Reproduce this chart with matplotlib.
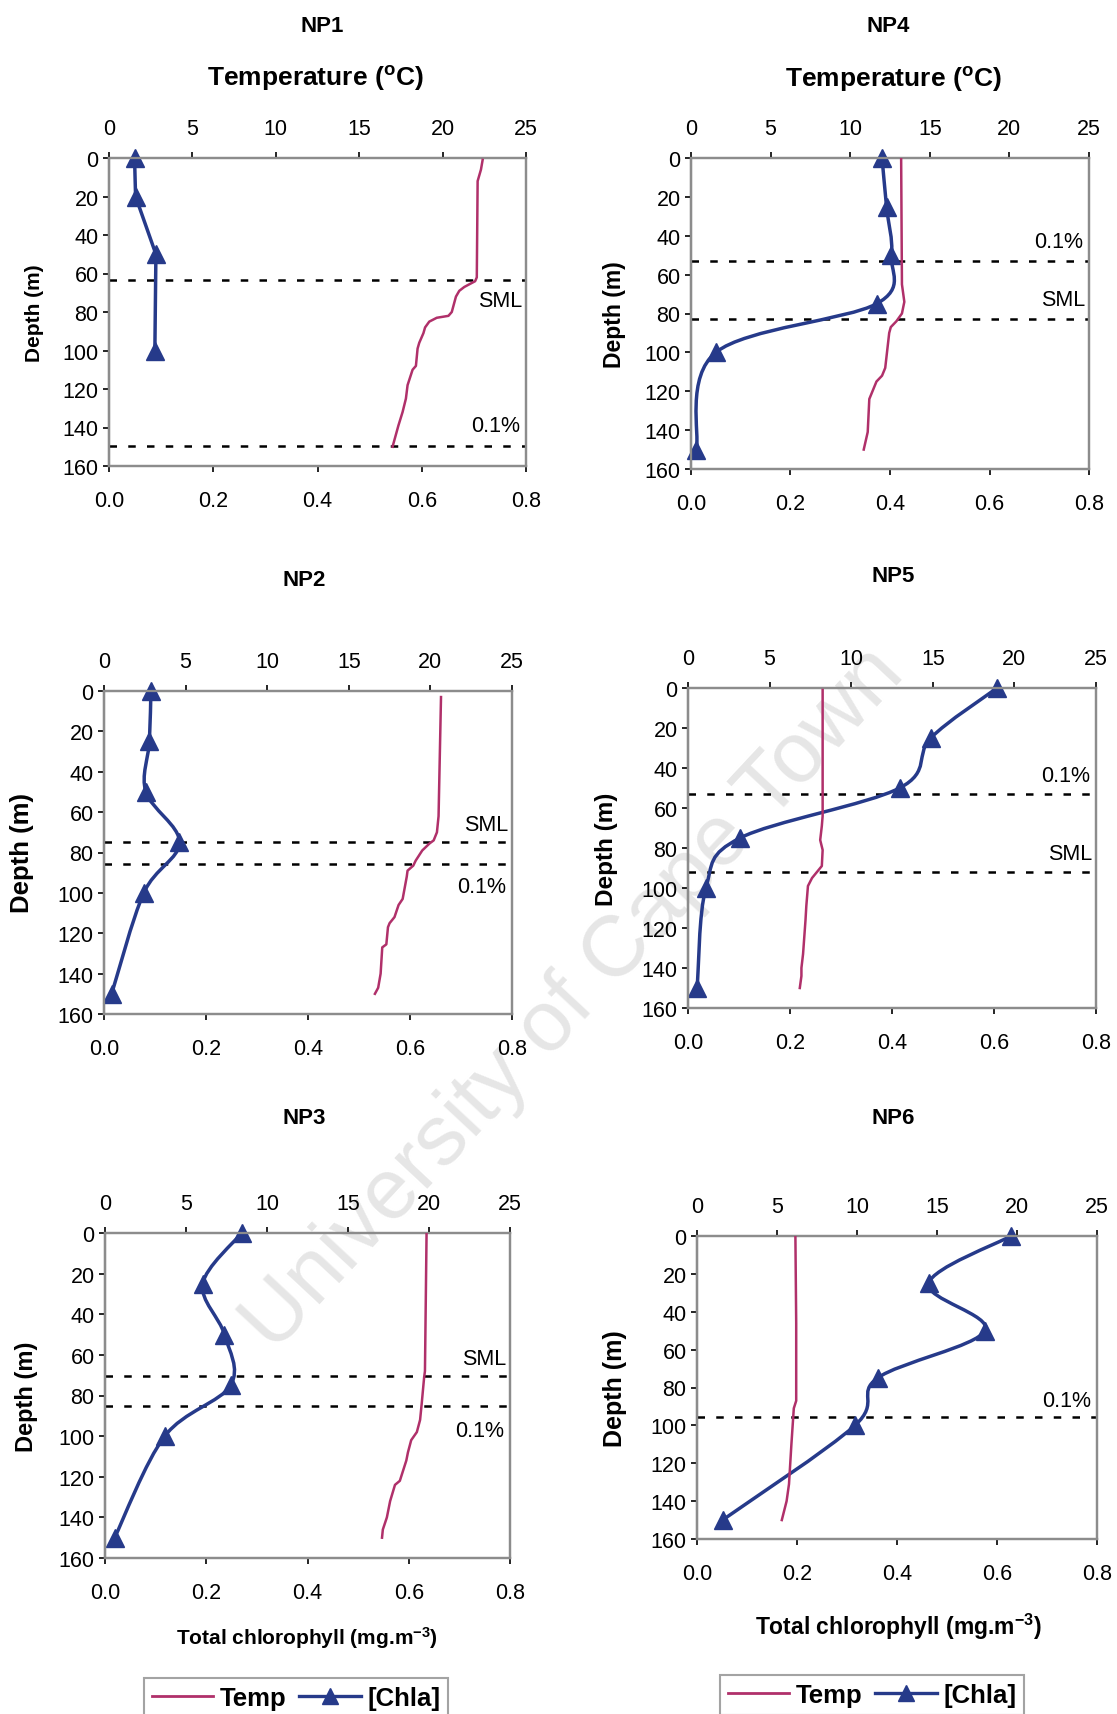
import numpy as np
import matplotlib
matplotlib.use("Agg")
import matplotlib.pyplot as plt
from matplotlib.path import Path
from matplotlib.patches import PathPatch
from matplotlib.lines import Line2D
import matplotlib.transforms as mtransforms

plt.rcParams["font.family"] = ["Liberation Sans", "DejaVu Sans"]

# ---- data ----
stations = ["NP1", "NP4", "NP2", "NP5", "NP3", "NP6"]

np1_chl_depth = [0, 20, 50, 100]
np1_chl = [0.049, 0.051, 0.090, 0.088]
np1_t_depth = [1, 6, 12, 62, 64, 67, 69, 72, 80, 82, 83, 85, 88, 91, 96, 99, 108, 110, 118, 125, 132, 139, 150]
np1_temp = [22.4, 22.3, 22.1, 22.05, 21.95, 21.3, 21.0, 20.8, 20.55, 20.35, 19.65, 19.2, 18.95, 18.85,
            18.6, 18.5, 18.4, 18.2, 17.9, 17.8, 17.6, 17.35, 17.0]

np4_chl_depth = [0, 25, 50, 75, 100, 150]
np4_chl = [0.384, 0.393, 0.403, 0.373, 0.050, 0.011]
np4_t_depth = [0, 65, 74, 80, 84, 87, 90, 108, 112, 115, 120, 124, 141, 150]
np4_temp = [13.2, 13.25, 13.4, 13.25, 12.9, 12.55, 12.45, 12.2, 12.0, 11.65, 11.4, 11.2, 11.1, 10.85]

np2_chl_depth = [0, 25, 50, 75, 100, 150]
np2_chl = [0.092, 0.089, 0.082, 0.148, 0.078, 0.015]
np2_t_depth = [3, 62, 70, 74, 75.5, 79, 84, 86.5, 89, 92, 103, 106, 112, 115, 117, 125.5, 127, 140, 147, 150]
np2_temp = [20.65, 20.5, 20.4, 20.2, 19.95, 19.5, 19.1, 18.95, 18.6, 18.55, 18.3, 18.05, 17.8, 17.5,
            17.4, 17.3, 17.05, 16.95, 16.8, 16.6]

np5_chl_depth = [0, 25, 50, 75, 100, 150]
np5_chl = [0.606, 0.476, 0.415, 0.102, 0.035, 0.018]
np5_t_depth = [1, 64, 69, 76, 81, 89, 92, 95, 99, 109, 116, 133, 140, 144, 150]
np5_temp = [8.25, 8.25, 8.2, 8.1, 8.25, 8.2, 7.9, 7.6, 7.35, 7.25, 7.2, 7.05, 6.95, 6.95, 6.85]

np3_chl_depth = [0, 25, 50, 75, 100, 150]
np3_chl = [0.270, 0.193, 0.236, 0.248, 0.118, 0.019]
np3_t_depth = [0, 68, 71, 84, 92, 98, 102, 108, 112, 122, 124, 132, 140, 146, 150]
np3_temp = [19.85, 19.75, 19.7, 19.55, 19.45, 19.25, 18.9, 18.7, 18.6, 18.2, 17.9, 17.6, 17.4, 17.15, 17.1]

np6_chl_depth = [0, 25, 50, 75, 100, 150]
np6_chl = [0.628, 0.463, 0.576, 0.361, 0.316, 0.051]
np6_t_depth = [0, 46, 87, 91, 110, 131, 140, 150]
np6_temp = [6.15, 6.2, 6.2, 6.05, 5.9, 5.75, 5.6, 5.3]

# reference depths (m): surface mixed layer and 0.1% light level
sml_depth = [63.5, 83, 75, 92, 70.5, None]
light_depth = [149.5, 53, 85.5, 53, 85, 95.5]
# label depths for the "SML" / "0.1%" text
sml_label = [74, 73, 66, 83, 62, None]
light_label = [139, 43, 97, 44, 97, 87]

temp_ticks = [0, 5, 10, 15, 20, 25]
chl_ticks = [0.0, 0.2, 0.4, 0.6, 0.8]
depth_ticks = [0, 20, 40, 60, 80, 100, 120, 140, 160]

# ---- layout (pixels of the 1117 x 1715 figure) ----
W, H = 1117, 1715
axes_px = [(109, 526, 159, 467), (691, 1089, 159, 470),
           (104, 512, 692, 1015), (688, 1096, 689, 1009),
           (105, 510, 1234, 1559), (697, 1097, 1237, 1540)]
title_px = [(322, 26), (888, 27), (304, 581), (893, 577), (304, 1118), (893, 1118)]
ylab_x = [35, 615, 22, 607, 26, 615]
ylab_size = [15, 16.5, 18.5, 17.5, 17, 18]
smooth = [False, True, True, True, True, True]

chl_series = [(np1_chl_depth, np1_chl), (np4_chl_depth, np4_chl), (np2_chl_depth, np2_chl),
              (np5_chl_depth, np5_chl), (np3_chl_depth, np3_chl), (np6_chl_depth, np6_chl)]
temp_series = [(np1_t_depth, np1_temp), (np4_t_depth, np4_temp), (np2_t_depth, np2_temp),
               (np5_t_depth, np5_temp), (np3_t_depth, np3_temp), (np6_t_depth, np6_temp)]

TEMP_C = "#b0306a"
CHL_C = "#263a8a"
SPINE_C = "#8c8c8c"


def smooth_path(xs, ys):
    # Excel-like smoothed line: Catmull-Rom segments as cubic Bezier curves
    pts = np.column_stack([xs, ys]).astype(float)
    n = len(pts)
    verts = [pts[0]]
    codes = [Path.MOVETO]
    for i in range(n - 1):
        p0 = pts[max(i - 1, 0)]
        p1 = pts[i]
        p2 = pts[i + 1]
        p3 = pts[min(i + 2, n - 1)]
        verts += [p1 + (p2 - p0) / 6, p2 - (p3 - p1) / 6, p2]
        codes += [Path.CURVE4] * 3
    return Path(verts, codes)


fig = plt.figure(figsize=(W / 100, H / 100), dpi=100)

# watermark
fig.text(574 / W, 1 - 1000 / H, "University of Cape Town", rotation=47, fontsize=62,
         color="#e6e6e6", ha="center", va="center", zorder=-5)

for i, name in enumerate(stations):
    x0, x1, y0, y1 = axes_px[i]
    ax = fig.add_axes([x0 / W, 1 - y1 / H, (x1 - x0) / W, (y1 - y0) / H])
    ax.patch.set_alpha(0)
    axt = ax.twiny()
    axt.patch.set_alpha(0)

    for a in (ax, axt):
        a.set_ylim(160, 0)
        for s in a.spines.values():
            s.set_color(SPINE_C)
            s.set_linewidth(1.6)
        a.tick_params(colors="black", labelsize=15.5, length=4, width=1.2, direction="out")
    ax.spines["left"].set_color("#444444")
    ax.set_xlim(0, 0.8)
    axt.set_xlim(0, 25)
    ax.set_xticks(chl_ticks)
    ax.set_xticklabels([f"{v:.1f}" for v in chl_ticks])
    axt.set_xticks(temp_ticks)
    ax.set_yticks(depth_ticks)
    ax.tick_params(axis="x", pad=13)
    axt.tick_params(axis="x", pad=10)

    # temperature profile on the top axis
    td, tv = temp_series[i]
    axt.plot(tv, td, color=TEMP_C, lw=1.8, zorder=3)

    # chlorophyll profile on the bottom axis
    cd, cv = chl_series[i]
    if smooth[i]:
        ax.add_patch(PathPatch(smooth_path(cv, cd), facecolor="none", edgecolor=CHL_C,
                               lw=2.5, zorder=4))
    else:
        ax.plot(cv, cd, color=CHL_C, lw=2.5, zorder=4)
    ax.plot(cv, cd, linestyle="none", marker="^", markersize=12.5, color=CHL_C, zorder=5,
            clip_on=False)

    # reference lines and labels
    trans = mtransforms.blended_transform_factory(ax.transAxes, ax.transData)
    if sml_depth[i] is not None:
        ax.axhline(sml_depth[i], color="black", lw=1.8, ls=(0, (3, 4.5)), zorder=2)
        ax.text(0.99, sml_label[i], "SML", transform=trans, ha="right", va="center", fontsize=15.5)
    ax.axhline(light_depth[i], color="black", lw=1.8, ls=(0, (3, 4.5)), zorder=2)
    ax.text(0.985, light_label[i], "0.1%", transform=trans, ha="right", va="center", fontsize=15.5)

    tx, ty = title_px[i]
    fig.text(tx / W, 1 - ty / H, name, ha="center", va="center", fontsize=16, fontweight="bold")
    fig.text(ylab_x[i] / W, 1 - (y0 + y1) / 2 / H, "Depth (m)", rotation=90, ha="center",
             va="center", fontsize=ylab_size[i], fontweight="bold")

fig.text(315 / W, 1 - 79 / H, r"Temperature ($\mathregular{^o}$C)", ha="center", va="center",
         fontsize=19, fontweight="bold")
fig.text(893 / W, 1 - 80 / H, r"Temperature ($\mathregular{^o}$C)", ha="center", va="center",
         fontsize=19, fontweight="bold")
fig.text(307 / W, 1 - 1638 / H, r"Total chlorophyll (mg.m$\mathregular{^{-3}}$)", ha="center",
         va="center", fontsize=15, fontweight="bold")
fig.text(898 / W, 1 - 1627 / H, r"Total chlorophyll (mg.m$\mathregular{^{-3}}$)", ha="center",
         va="center", fontsize=16.5, fontweight="bold")

handles = [Line2D([], [], color=TEMP_C, lw=2),
           Line2D([], [], color=CHL_C, lw=2.4, marker="^", markersize=11)]
for cx, cy in [(296, 1699), (872, 1696)]:
    leg = fig.legend(handles, ["Temp", "[Chla]"], loc="center", bbox_to_anchor=(cx / W, 1 - cy / H),
                     ncol=2, frameon=True, fancybox=False, edgecolor=SPINE_C, handlelength=2.4,
                     handletextpad=0.25, columnspacing=0.5, borderpad=0.3,
                     prop={"weight": "bold", "size": 18.5})
    leg.get_frame().set_linewidth(1.5)

fig.savefig("out.png", dpi=100, facecolor="white")
